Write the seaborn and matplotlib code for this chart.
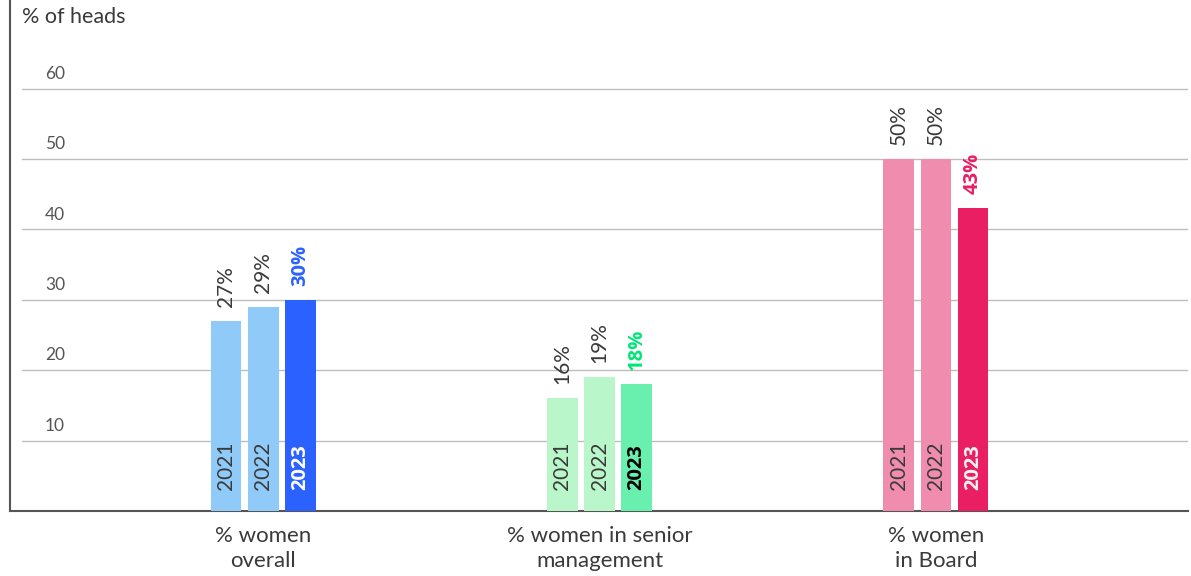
import matplotlib
matplotlib.use("Agg")
import matplotlib.pyplot as plt
import seaborn as sns
import pandas as pd
from matplotlib import font_manager

# Data
categories = ["% women\noverall", "% women in senior\nmanagement", "% women\nin Board"]
years = ["2021", "2022", "2023"]
values_2021 = [27, 16, 50]
values_2022 = [29, 19, 50]
values_2023 = [30, 18, 43]
y_ticks = [10, 20, 30, 40, 50, 60]

# Colours per category: (earlier years, current year)
light_colors = ["#90CAF9", "#B9F6CA", "#F08CAE"]
dark_colors = ["#2B62FF", "#69F0AE", "#E91E63"]
highlight_text = ["#2B62FF", "#00E676", "#E91E63"]
year_label_2023 = ["white", "black", "#F4F4F4"]
text_color = "#3a3a3a"

sns.set_theme(style="white")
names = {f.name for f in font_manager.fontManager.ttflist}
family = "Lato" if "Lato" in names else "DejaVu Sans"
bold_family = "Open Sans" if "Open Sans" in names else "DejaVu Sans"
plt.rcParams["font.family"] = [family, "DejaVu Sans"]

rows = []
for vals, yr in zip([values_2021, values_2022, values_2023], years):
    for cat, v in zip(categories, vals):
        rows.append({"category": cat, "year": yr, "value": v})
df = pd.DataFrame(rows)

fig = plt.figure(figsize=(11.91, 5.76), dpi=100)
ax = fig.add_axes([10 / 1191, 65 / 576, 1178 / 1191, 511 / 576])

sns.barplot(data=df, x="category", y="value", hue="year", order=categories,
            hue_order=years, width=0.33, gap=0.164, ax=ax, legend=False,
            palette=["#cccccc"] * 3, saturation=1)

ax.set_xlim(-0.752, 2.749)
ax.set_ylim(0, 72.6)

# Recolour bars and annotate
for hi, cont in enumerate(ax.containers):
    for ci, bar in enumerate(cont):
        is_cur = hi == 2
        bar.set_facecolor(dark_colors[ci] if is_cur else light_colors[ci])
        bar.set_edgecolor("none")
        bar.set_zorder(3)
        xc = bar.get_x() + bar.get_width() / 2
        h = bar.get_height()
        if is_cur:
            style = dict(family=bold_family, fontweight="bold", fontsize=14.5)
        else:
            style = dict(family=family, fontweight="normal", fontsize=15)
        ax.annotate(f"{int(h)}%", (xc, h), xytext=(0, 10), textcoords="offset points",
                    rotation=90, ha="center", va="bottom",
                    color=highlight_text[ci] if is_cur else text_color,
                    zorder=5, **style)
        ax.text(xc, 3.0, years[hi], rotation=90, ha="center", va="bottom",
                color=year_label_2023[ci] if is_cur else text_color,
                zorder=5, **style)

# Gridlines and their labels
for t in y_ticks:
    ax.axhline(t, xmin=12 / 1178, xmax=1, color="#bdbdbd", lw=1.0, zorder=1)
    ax.annotate(str(t), (35 / 1178, t), xycoords=("axes fraction", "data"),
                xytext=(0, 5), textcoords="offset points", ha="left", va="bottom",
                fontsize=12.5, color="#555555")

ax.set_yticks([])
ax.set_xlabel("")
ax.set_ylabel("")
ax.tick_params(axis="x", length=0, pad=11, labelsize=16, labelcolor=text_color)
for lbl in ax.get_xticklabels():
    lbl.set_linespacing(1.3)

for side in ["top", "right"]:
    ax.spines[side].set_visible(False)
for side in ["left", "bottom"]:
    ax.spines[side].set_color("#555555")
    ax.spines[side].set_linewidth(1.5)

ax.text(12 / 1178, 1 - 17 / 511, "% of heads", transform=ax.transAxes,
        ha="left", va="center", fontsize=15.5, color=text_color)

fig.savefig("out.png", dpi=100)
